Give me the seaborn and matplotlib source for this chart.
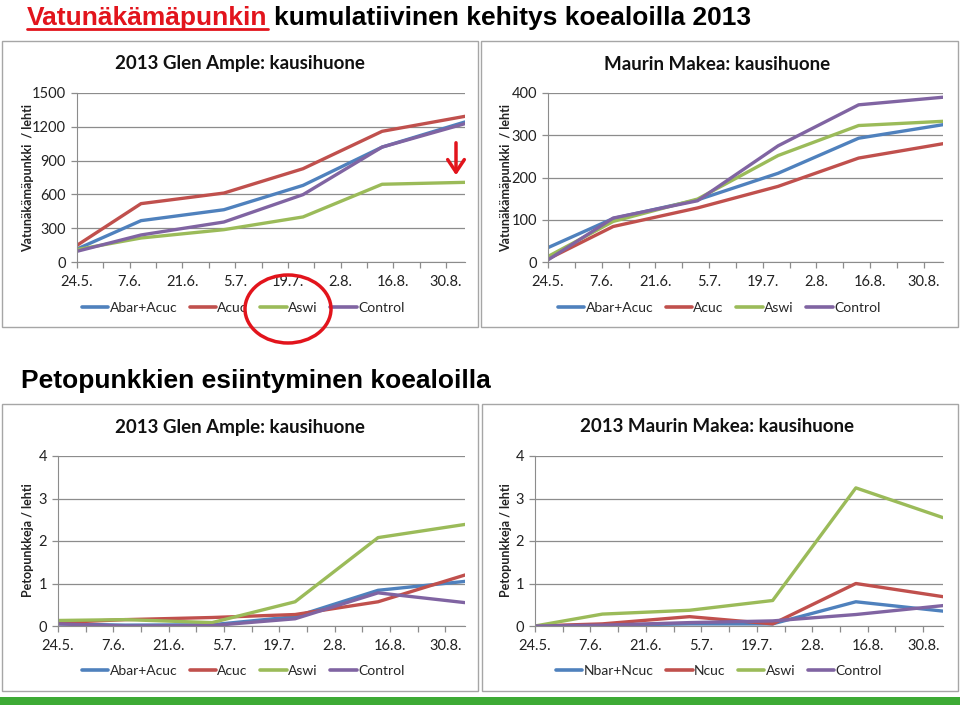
import numpy as np
import pandas as pd
import seaborn as sns
from matplotlib import pyplot as plt
from matplotlib.patches import Rectangle, Ellipse, FancyArrowPatch
from matplotlib.lines import Line2D

sns.set_style('white')
plt.rcParams['font.family'] = ['Lato', 'DejaVu Sans']

# mittauspaivat ja akselin merkinnat
pvm = pd.to_datetime(['2013-05-24', '2013-06-10', '2013-07-02', '2013-07-23', '2013-08-13', '2013-09-04'])
tikit = pd.date_range('2013-05-24', periods=8, freq='14D')
tikki_tekstit = ['24.5.', '7.6.', '21.6.', '5.7.', '19.7.', '2.8.', '16.8.', '30.8.']
pikkutikit = pd.date_range('2013-05-24', '2013-09-04', freq='7D')

# vatunakamapunkki, Glen Ample
ga_abar_acuc = [115, 367, 464, 680, 1020, 1243]
ga_acuc = [148, 518, 612, 828, 1160, 1293]
ga_aswi = [110, 213, 287, 400, 690, 707]
ga_control = [95, 240, 355, 598, 1020, 1228]

# vatunakamapunkki, Maurin Makea
mm_abar_acuc = [34, 103, 147, 210, 293, 325]
mm_acuc = [7, 84, 128, 179, 246, 280]
mm_aswi = [13, 96, 149, 252, 323, 333]
mm_control = [5, 104, 145, 275, 372, 390]

# petopunkit, Glen Ample
pga_abar_acuc = [0.05, 0.02, 0.03, 0.22, 0.84, 1.05]
pga_acuc = [0.08, 0.15, 0.20, 0.27, 0.57, 1.20]
pga_aswi = [0.13, 0.15, 0.08, 0.57, 2.08, 2.39]
pga_control = [0.05, 0.0, 0.01, 0.17, 0.78, 0.55]

# petopunkit, Maurin Makea
pmm_nbar_ncuc = [0.0, 0.02, 0.05, 0.05, 0.57, 0.35]
pmm_ncuc = [0.0, 0.05, 0.22, 0.05, 1.00, 0.69]
pmm_aswi = [0.0, 0.28, 0.37, 0.60, 3.25, 2.55]
pmm_control = [0.0, 0.02, 0.08, 0.12, 0.27, 0.48]

nimet_a = ['Abar+Acuc', 'Acuc', 'Aswi', 'Control']
nimet_n = ['Nbar+Ncuc', 'Ncuc', 'Aswi', 'Control']
varit = ['#4F81BD', '#C0504D', '#9BBB59', '#8064A2']
harmaa = '#8c8c8c'

W, H = 960, 705
fig = plt.figure(figsize=(W / 100, H / 100), dpi=100)


def px(x, y):
    return x / W, 1 - y / H


def laatikko(x0, y0, x1, y1):
    fig.add_artist(Rectangle(px(x0, y1), (x1 - x0) / W, (y1 - y0) / H, transform=fig.transFigure,
                             fill=False, ec='#a6a6a6', lw=1))


def paneeli(rect, sarjat, nimet, ymax, step, otsikko, otsikko_xy, ylabel, ylabel_xy, leg_xy):
    x0, y0, x1, y1 = rect
    ax = fig.add_axes([x0 / W, 1 - y1 / H, (x1 - x0) / W, (y1 - y0) / H])
    df = pd.DataFrame({'pvm': np.tile(pvm, len(sarjat)),
                       'arvo': np.concatenate(sarjat),
                       'sarja': np.repeat(nimet, len(pvm))})
    sns.lineplot(data=df, x='pvm', y='arvo', hue='sarja', hue_order=nimet, palette=varit,
                 linewidth=2.4, ax=ax, legend=False)
    ax.set_xlim(pvm[0], pvm[-1])
    ax.set_ylim(0, ymax)
    ax.set_yticks(np.arange(0, ymax + step / 2, step))
    ax.set_xticks(tikit)
    ax.set_xticklabels(tikki_tekstit)
    ax.set_xticks(pikkutikit, minor=True)
    ax.set_xlabel('')
    ax.set_ylabel('')
    ax.yaxis.grid(True, color=harmaa, lw=0.9)
    ax.set_axisbelow(True)
    for s in ['top', 'right']:
        ax.spines[s].set_visible(False)
    for s in ['left', 'bottom']:
        ax.spines[s].set_color(harmaa)
    ax.tick_params(which='both', direction='out', length=4, color=harmaa, width=0.9,
                   labelsize=10.5, labelcolor='#222222', pad=4)
    ax.tick_params(axis='x', which='both', bottom=True, pad=5)
    ax.tick_params(axis='y', left=True)
    fig.text(*px(*otsikko_xy), otsikko, ha='center', va='center', fontsize=13.5, fontweight='bold',
             color='#111111')
    fig.text(*px(*ylabel_xy), ylabel, ha='center', va='center', rotation=90, fontsize=9,
             fontweight='bold', color='#222222')
    kahvat = [Line2D([], [], color=c, lw=2.6) for c in varit]
    ax.legend(kahvat, nimet, loc='center', bbox_to_anchor=px(*leg_xy), bbox_transform=fig.transFigure,
              ncol=4, frameon=False, fontsize=10, handlelength=1.9, handletextpad=0.1,
              columnspacing=0.9)
    return ax


laatikko(2, 41, 478, 327)
laatikko(481, 41, 958, 327)
laatikko(2, 404, 478, 691)
laatikko(482, 404, 958, 691)

paneeli((77, 93, 465, 262), [ga_abar_acuc, ga_acuc, ga_aswi, ga_control], nimet_a, 1500, 300,
        '2013 Glen Ample: kausihuone', (240, 64), 'Vatunäkämäpunkki  / lehti', (28, 178), (243, 308))
paneeli((548, 93, 943, 262), [mm_abar_acuc, mm_acuc, mm_aswi, mm_control], nimet_a, 400, 100,
        'Maurin Makea: kausihuone', (717, 64), 'Vatunäkämäpunkki  / lehti', (506, 178), (719, 308))
paneeli((58, 456, 465, 626), [pga_abar_acuc, pga_acuc, pga_aswi, pga_control], nimet_a, 4, 1,
        '2013 Glen Ample: kausihuone', (240, 427), 'Petopunkkeja / lehti', (28, 540), (243, 671))
paneeli((535, 456, 943, 626), [pmm_nbar_ncuc, pmm_ncuc, pmm_aswi, pmm_control], nimet_n, 4, 1,
        '2013 Maurin Makea: kausihuone', (717, 427), 'Petopunkkeja / lehti', (506, 540), (719, 671))

# otsikot
punainen = '#E2141C'
t1 = fig.text(*px(27, 25), 'Vatunäkämäpunkin', ha='left', va='baseline', fontsize=19,
              fontweight='bold', color=punainen, family=['Liberation Sans', 'DejaVu Sans'])
fig.canvas.draw()
bb = t1.get_window_extent()
fig.add_artist(Line2D([bb.x0 / W, bb.x1 / W], [1 - 29 / H, 1 - 29 / H], transform=fig.transFigure,
                      color=punainen, lw=2))
fig.text((bb.x1 + 7) / W, 1 - 25 / H, 'kumulatiivinen kehitys koealoilla 2013', ha='left', va='baseline',
         fontsize=19, fontweight='bold', color='black', family=['Liberation Sans', 'DejaVu Sans'])
fig.text(*px(21, 388), 'Petopunkkien esiintyminen koealoilla', ha='left', va='baseline', fontsize=19,
         fontweight='bold', color='black', family=['Liberation Sans Narrow', 'Liberation Sans', 'DejaVu Sans'])

# merkinnat: ympyra ja nuoli
fig.add_artist(Ellipse(px(288, 309), 86 / W, 68 / H, transform=fig.transFigure, fill=False,
                       ec=punainen, lw=2.5, zorder=5))
fig.add_artist(FancyArrowPatch(px(456, 140), px(456, 178), transform=fig.transFigure,
                               arrowstyle='->,head_length=0.45,head_width=0.3', mutation_scale=20,
                               lw=2.5, color=punainen, zorder=5))

# vihrea palkki alareunassa
fig.add_artist(Rectangle(px(0, 705), 1, 8 / H, transform=fig.transFigure, color='#3DAA35', lw=0))

fig.savefig('out.png', dpi=100)
